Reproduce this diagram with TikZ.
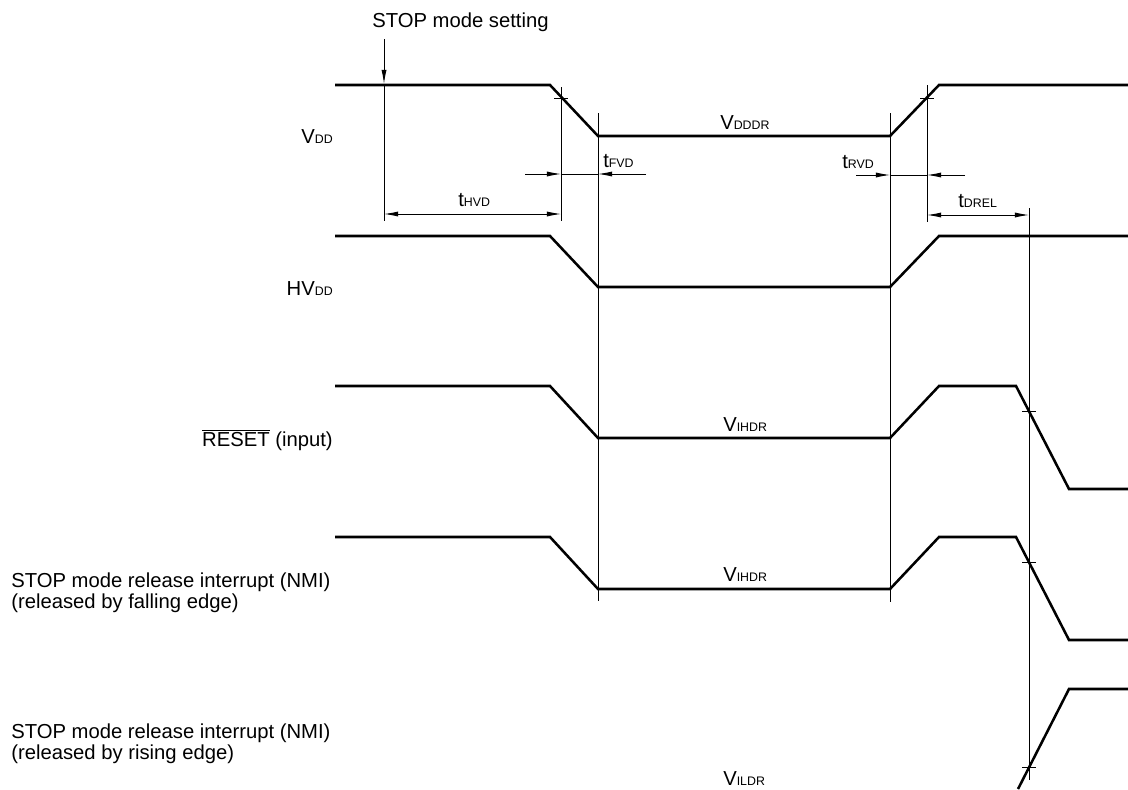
\documentclass[tikz,border=0pt]{standalone}
\usepackage{fontspec}
\setmainfont{Liberation Sans}
\usepackage{tikz}
\usetikzlibrary{arrows.meta}
\tikzstyle{signal} = [line width=1.8pt]
\tikzstyle{guide} = [line width=0.65pt]
\tikzstyle{dimline} = [guide,arrows={-Latex[length=10pt,width=3.6pt]}]
\tikzstyle{dimboth} = [guide,arrows={Latex[length=10pt,width=3.6pt]-Latex[length=10pt,width=3.6pt]}]
\tikzstyle{lbl} = [inner sep=0pt,font=\fontsize{14.4}{17}\selectfont]
\newcommand{\lsub}[1]{{\fontsize{8.8}{10}\selectfont #1}}

\begin{document}
\begin{tikzpicture}[x=0.025cm,y=-0.025cm]
      \useasboundingbox (0,0) rectangle (1128,789);

      % labels on the left
      \node (vdd)[lbl,anchor=base east]  at (333,143) {V\lsub{DD}};
      \node (hvdd)[lbl,anchor=base east] at (333,295) {HV\lsub{DD}};
      \node (reset)[lbl,anchor=base east] at (333,446) {$\overline{\mbox{RESET}}$ (input)};
      \node (nmif1)[lbl,anchor=base west] at (11,587) {STOP mode release interrupt (NMI)};
      \node (nmif2)[lbl,anchor=base west] at (11,608) {(released by falling edge)};
      \node (nmir1)[lbl,anchor=base west] at (11,738) {STOP mode release interrupt (NMI)};
      \node (nmir2)[lbl,anchor=base west] at (11,759) {(released by rising edge)};

      % waveforms
      \draw[signal] (335,85) -- (550,85) -- (598,136) -- (890,136) -- (939,85) -- (1128,85);
      \draw[signal] (335,236) -- (550,236) -- (598,287) -- (890,287) -- (939,236) -- (1128,236);
      \draw[signal] (335,386) -- (550,386) -- (598,438) -- (890,438) -- (939,386) -- (1016,386) -- (1069,489) -- (1128,489);
      \draw[signal] (335,537) -- (550,537) -- (598,589) -- (890,589) -- (939,537) -- (1016,537) -- (1069,640) -- (1128,640);
      \draw[signal] (1018,789) -- (1069,689) -- (1128,689);

      % levels
      \node (vdddr)[lbl,anchor=base west] at (720,129) {V\lsub{DDDR}};
      \node (vihdr1)[lbl,anchor=base west] at (723,431) {V\lsub{IHDR}};
      \node (vihdr2)[lbl,anchor=base west] at (723,581) {V\lsub{IHDR}};
      \node (vildr)[lbl,anchor=base west] at (723,785) {V\lsub{ILDR}};

      % guide lines and ticks
      \foreach \x/\ya/\yb in {384/85/221, 561/87/221, 598/113/601, 890/113/602, 927/85/222, 1029/208/780}
            \draw[guide] (\x,\ya) -- (\x,\yb);
      \foreach \x/\y in {561/98, 927/98, 1029/411, 1029/562, 1029/767}
            \draw[guide] (\x-7,\y) -- (\x+7,\y);

      % STOP mode setting
      \node (setting)[lbl,anchor=base west] at (372,27) {STOP mode setting};
      \coordinate (stoptop) at (384,39);
      \coordinate (stop) at (384,84);
      \draw[dimline] (stoptop) -- (stop);

      % timings
      \coordinate (hvda) at (384,214);
      \coordinate (hvdb) at (561,214);
      \draw[dimboth] (hvda) -- (hvdb);
      \node (thvd)[lbl,anchor=base west] at (458,206) {t\lsub{HVD}};

      \coordinate (fvdl) at (525,174);
      \coordinate (fvda) at (561,174);
      \coordinate (fvdb) at (598,174);
      \coordinate (fvdr) at (646,174);
      \draw[dimline] (fvdl) -- (fvda);
      \draw[guide] (fvda) -- (fvdb);
      \draw[dimline] (fvdr) -- (fvdb);
      \node (tfvd)[lbl,anchor=base west] at (603,167) {t\lsub{FVD}};

      \coordinate (rvdl) at (856,175);
      \coordinate (rvda) at (890,175);
      \coordinate (rvdb) at (927,175);
      \coordinate (rvdr) at (965,175);
      \draw[dimline] (rvdl) -- (rvda);
      \draw[guide] (rvda) -- (rvdb);
      \draw[dimline] (rvdr) -- (rvdb);
      \node (trvd)[lbl,anchor=base west] at (842,168) {t\lsub{RVD}};

      \coordinate (drela) at (927,215);
      \coordinate (drelb) at (1029,215);
      \draw[dimboth] (drela) -- (drelb);
      \node (tdrel)[lbl,anchor=base west] at (958,207) {t\lsub{DREL}};
\end{tikzpicture}
\end{document}
